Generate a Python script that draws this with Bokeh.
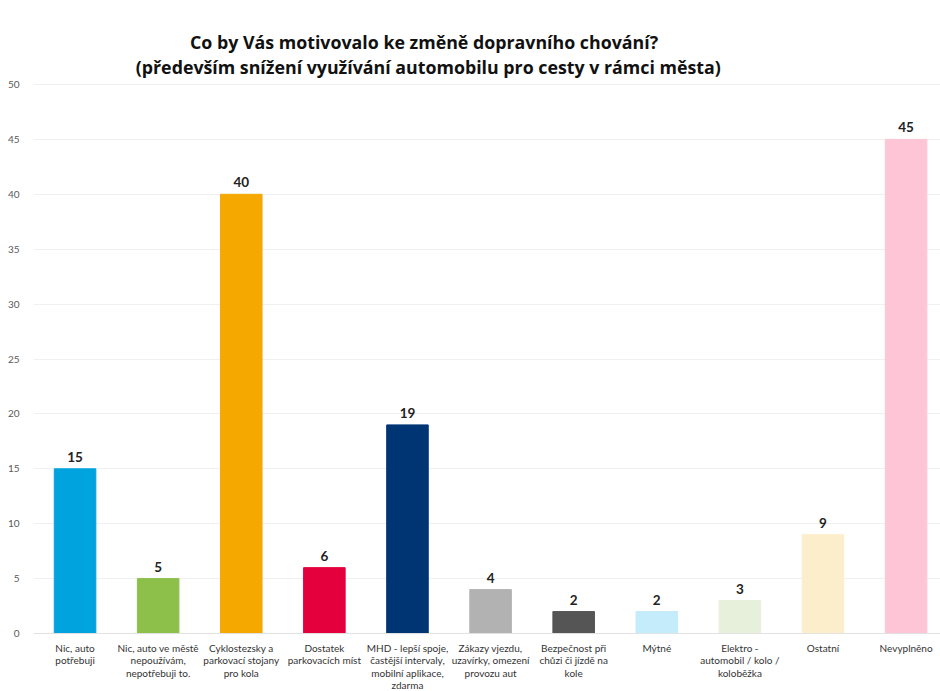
from bokeh.plotting import figure
from bokeh.models import Range1d, FixedTicker, ColumnDataSource, Span
from bokeh.core.properties import value
from bokeh.embed import file_html
from bokeh.resources import INLINE

categories = [
    "Nic, auto\npotřebuji",
    "Nic, auto ve městě\nnepoužívám,\nnepotřebuji to.",
    "Cyklostezsky a\nparkovací stojany\npro kola",
    "Dostatek\nparkovacích míst",
    "MHD - lepší spoje,\nčastější intervaly,\nmobilní aplikace,\nzdarma",
    "Zákazy vjezdu,\nuzavírky, omezení\nprovozu aut",
    "Bezpečnost při\nchůzi či jízdě na\nkole",
    "Mýtné",
    "Elektro -\nautomobil / kolo /\nkoloběžka",
    "Ostatní",
    "Nevyplněno",
]
values = [15, 5, 40, 6, 19, 4, 2, 2, 3, 9, 45]
colors = ["#00a3dd", "#8cc04b", "#f5a800", "#e4003c", "#003574", "#b2b2b2",
          "#555555", "#c5ecfb", "#e6f0da", "#fdeecb", "#fdc5d6"]
y_ticks = [0, 5, 10, 15, 20, 25, 30, 35, 40, 45, 50]
title_lines = ["Co by Vás motivovalo ke změně dopravního chování?",
               "(především snížení využívání automobilu pro cesty v rámci města)"]

xs = list(range(len(categories)))
src = ColumnDataSource(dict(x=xs, top=values, color=colors,
                            label=[str(v) for v in values],
                            cat=categories, zero=[0] * len(xs)))

p = figure(width=940, height=691, output_backend="svg", toolbar_location=None,
           x_range=Range1d(-0.5, 10.414), y_range=Range1d(-5.28, 57.65),
           min_border_left=33, min_border_right=0, min_border_top=0,
           min_border_bottom=0)
p.outline_line_color = None
p.background_fill_color = "white"
p.border_fill_color = "white"

p.xaxis.visible = False
p.yaxis.ticker = FixedTicker(ticks=y_ticks)
p.yaxis.major_label_text_font = "Lato"
p.yaxis.major_label_text_font_size = "10px"
p.yaxis.major_label_text_color = "#595959"
p.yaxis.major_tick_line_color = None
p.yaxis.minor_tick_line_color = None
p.yaxis.axis_line_color = None
p.yaxis.major_label_standoff = 8

p.xgrid.grid_line_color = None
p.ygrid.grid_line_color = "#f0f0f0"

p.add_layout(Span(location=0, dimension="width", line_color="#e2e2e2",
                  line_width=1))

p.vbar(x="x", top="top", width=0.5, color="color", source=src)
p.text(x="x", y="top", text="label", source=src, text_align="center",
       text_baseline="bottom", y_offset=-7, text_font_size="13.5px",
       text_font_style="bold", text_color="#222222", text_font=value("Lato"))
p.text(x="x", y="zero", text="cat", source=src, text_align="center",
       text_baseline="top", y_offset=8, text_font_size="10px",
       text_line_height=1.05, text_color="#333333", text_font=value("Lato"))

p.text(x=[4.2, 4.25], y=[53.83, 51.55], text=title_lines, text_align="center",
       text_baseline="middle", text_font=value("Open Sans"),
       text_font_size="17.8px", text_font_style="bold", text_color="#111111")

open("out.html", "w").write(file_html(p, INLINE))
